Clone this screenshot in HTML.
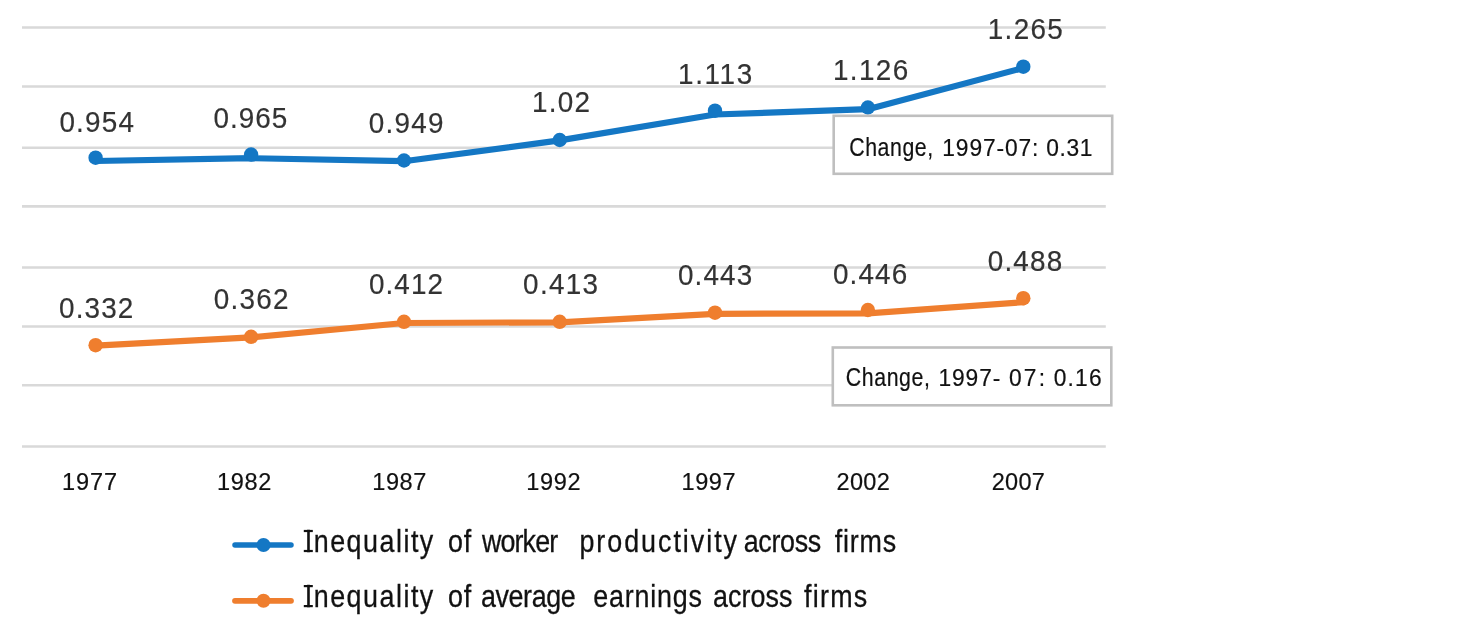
<!DOCTYPE html><html><head><meta charset="utf-8"><style>html,body{margin:0;padding:0;background:#fff;width:1480px;height:633px;overflow:hidden}svg{display:block;will-change:transform}text{font-family:"Liberation Sans", sans-serif}</style></head><body>
<svg width="1480" height="633" viewBox="0 0 1480 633">
<rect x="0" y="0" width="1480" height="633" fill="#fff"/>
<line x1="22" y1="27.55" x2="1105.8" y2="27.55" stroke="#d9d9d9" stroke-width="2.60"/>
<line x1="22" y1="86.45" x2="1105.8" y2="86.45" stroke="#d9d9d9" stroke-width="2.60"/>
<line x1="22" y1="147.80" x2="1105.8" y2="147.80" stroke="#d9d9d9" stroke-width="2.60"/>
<line x1="22" y1="206.40" x2="1105.8" y2="206.40" stroke="#d9d9d9" stroke-width="2.60"/>
<line x1="22" y1="267.55" x2="1105.8" y2="267.55" stroke="#d9d9d9" stroke-width="2.60"/>
<line x1="22" y1="326.45" x2="1105.8" y2="326.45" stroke="#d9d9d9" stroke-width="2.60"/>
<line x1="22" y1="385.30" x2="1105.8" y2="385.30" stroke="#d9d9d9" stroke-width="2.60"/>
<line x1="22" y1="446.45" x2="1105.8" y2="446.45" stroke="#d9d9d9" stroke-width="2.60"/>
<polyline points="95.6,161.0 251.1,158.2 404.0,161.2 559.7,140.4 715.0,114.5 867.9,109.2 1023.3,68.0" fill="none" stroke="#1477c4" stroke-width="6.20" stroke-linejoin="round" stroke-linecap="round"/>
<polyline points="95.6,345.7 251.1,337.3 404.0,323.0 559.7,322.3 715.0,313.8 867.9,313.4 1023.3,302.2" fill="none" stroke="#ef7e2e" stroke-width="6.20" stroke-linejoin="round" stroke-linecap="round"/>
<circle cx="95.6" cy="157.7" r="7.20" fill="#1477c4"/>
<circle cx="251.1" cy="154.5" r="7.20" fill="#1477c4"/>
<circle cx="404.0" cy="160.5" r="7.20" fill="#1477c4"/>
<circle cx="559.7" cy="140.0" r="7.20" fill="#1477c4"/>
<circle cx="715.0" cy="110.7" r="7.20" fill="#1477c4"/>
<circle cx="867.9" cy="107.5" r="7.20" fill="#1477c4"/>
<circle cx="1023.3" cy="66.7" r="7.20" fill="#1477c4"/>
<circle cx="95.6" cy="345.2" r="7.20" fill="#ef7e2e"/>
<circle cx="251.1" cy="336.8" r="7.20" fill="#ef7e2e"/>
<circle cx="404.0" cy="321.8" r="7.20" fill="#ef7e2e"/>
<circle cx="559.7" cy="321.8" r="7.20" fill="#ef7e2e"/>
<circle cx="715.0" cy="312.7" r="7.20" fill="#ef7e2e"/>
<circle cx="867.9" cy="310.0" r="7.20" fill="#ef7e2e"/>
<circle cx="1023.3" cy="298.2" r="7.20" fill="#ef7e2e"/>
<rect x="833.7" y="115.8" width="278.5" height="58" fill="#fff" stroke="#bfbfbf" stroke-width="2.6"/>
<rect x="832.8" y="347.5" width="278.5" height="57.8" fill="#fff" stroke="#bfbfbf" stroke-width="2.6"/>
<line x1="235" y1="545" x2="291" y2="545" stroke="#1477c4" stroke-width="5.5" stroke-linecap="round"/>
<circle cx="263.5" cy="545" r="7" fill="#1477c4"/>
<line x1="235" y1="600.8" x2="291" y2="600.8" stroke="#ef7e2e" stroke-width="5.8" stroke-linecap="round"/>
<circle cx="263.5" cy="600.8" r="7" fill="#ef7e2e"/>
<rect x="303.8" y="529.90" width="9" height="2.2" fill="#111111"/>
<rect x="303.8" y="549.90" width="9" height="2.2" fill="#111111"/>
<rect x="303.8" y="585.00" width="9" height="2.2" fill="#111111"/>
<rect x="303.8" y="605.00" width="9" height="2.2" fill="#111111"/>
<text transform="translate(59.40 131.70) scale(0.920 1)" font-size="30.3" fill="#333333" stroke="#333333" stroke-width="0.20" textLength="81.09" lengthAdjust="spacing">0.954</text>
<text transform="translate(213.60 128.10) scale(0.920 1)" font-size="30.3" fill="#333333" stroke="#333333" stroke-width="0.20" textLength="80.20" lengthAdjust="spacing">0.965</text>
<text transform="translate(368.80 133.10) scale(0.920 1)" font-size="30.3" fill="#333333" stroke="#333333" stroke-width="0.20" textLength="81.21" lengthAdjust="spacing">0.949</text>
<text transform="translate(532.00 111.50) scale(0.920 1)" font-size="30.3" fill="#333333" stroke="#333333" stroke-width="0.20" textLength="63.13" lengthAdjust="spacing">1.02</text>
<text transform="translate(678.10 83.80) scale(0.920 1)" font-size="30.3" fill="#333333" stroke="#333333" stroke-width="0.20" textLength="80.62" lengthAdjust="spacing">1.113</text>
<text transform="translate(832.90 79.80) scale(0.920 1)" font-size="30.3" fill="#333333" stroke="#333333" stroke-width="0.20" textLength="81.83" lengthAdjust="spacing">1.126</text>
<text transform="translate(987.80 38.50) scale(0.920 1)" font-size="30.3" fill="#333333" stroke="#333333" stroke-width="0.20" textLength="81.49" lengthAdjust="spacing">1.265</text>
<text transform="translate(59.10 318.20) scale(0.920 1)" font-size="30.3" fill="#333333" stroke="#333333" stroke-width="0.20" textLength="80.70" lengthAdjust="spacing">0.332</text>
<text transform="translate(213.70 308.60) scale(0.920 1)" font-size="30.3" fill="#333333" stroke="#333333" stroke-width="0.20" textLength="81.33" lengthAdjust="spacing">0.362</text>
<text transform="translate(368.90 293.80) scale(0.920 1)" font-size="30.3" fill="#333333" stroke="#333333" stroke-width="0.20" textLength="80.63" lengthAdjust="spacing">0.412</text>
<text transform="translate(523.10 293.60) scale(0.920 1)" font-size="30.3" fill="#333333" stroke="#333333" stroke-width="0.20" textLength="81.56" lengthAdjust="spacing">0.413</text>
<text transform="translate(678.00 284.50) scale(0.920 1)" font-size="30.3" fill="#333333" stroke="#333333" stroke-width="0.20" textLength="80.67" lengthAdjust="spacing">0.443</text>
<text transform="translate(833.00 283.80) scale(0.920 1)" font-size="30.3" fill="#333333" stroke="#333333" stroke-width="0.20" textLength="80.67" lengthAdjust="spacing">0.446</text>
<text transform="translate(987.80 271.40) scale(0.920 1)" font-size="30.3" fill="#333333" stroke="#333333" stroke-width="0.20" textLength="80.89" lengthAdjust="spacing">0.488</text>
<text transform="translate(61.95 489.90) scale(0.950 1)" font-size="24.8" fill="#111111" stroke="#111111" stroke-width="0.20" textLength="58.17" lengthAdjust="spacing">1977</text>
<text transform="translate(217.08 489.90) scale(0.950 1)" font-size="24.8" fill="#111111" stroke="#111111" stroke-width="0.20" textLength="57.03" lengthAdjust="spacing">1982</text>
<text transform="translate(372.20 489.90) scale(0.950 1)" font-size="24.8" fill="#111111" stroke="#111111" stroke-width="0.20" textLength="57.03" lengthAdjust="spacing">1987</text>
<text transform="translate(526.32 489.90) scale(0.950 1)" font-size="24.8" fill="#111111" stroke="#111111" stroke-width="0.20" textLength="57.03" lengthAdjust="spacing">1992</text>
<text transform="translate(681.45 489.90) scale(0.950 1)" font-size="24.8" fill="#111111" stroke="#111111" stroke-width="0.20" textLength="57.03" lengthAdjust="spacing">1997</text>
<text transform="translate(836.57 489.90) scale(0.950 1)" font-size="24.8" fill="#111111" stroke="#111111" stroke-width="0.20" textLength="56.00" lengthAdjust="spacing">2002</text>
<text transform="translate(991.70 489.90) scale(0.950 1)" font-size="24.8" fill="#111111" stroke="#111111" stroke-width="0.20" textLength="56.00" lengthAdjust="spacing">2007</text>
<text transform="translate(849.30 156.30) scale(0.820 1)" font-size="26" fill="#111111" stroke="#111111" stroke-width="0.20" textLength="102.21" lengthAdjust="spacing">Change,</text>
<text transform="translate(942.30 156.30) scale(0.950 1)" font-size="24" fill="#111111" stroke="#111111" stroke-width="0.20" textLength="101.12" lengthAdjust="spacing">1997-07:</text>
<text transform="translate(1046.20 156.30) scale(0.950 1)" font-size="24" fill="#111111" stroke="#111111" stroke-width="0.20" textLength="48.71" lengthAdjust="spacing">0.31</text>
<text transform="translate(845.80 386.40) scale(0.820 1)" font-size="26" fill="#111111" stroke="#111111" stroke-width="0.20" textLength="102.50" lengthAdjust="spacing">Change,</text>
<text transform="translate(938.50 386.40) scale(0.950 1)" font-size="24" fill="#111111" stroke="#111111" stroke-width="0.20" textLength="65.03" lengthAdjust="spacing">1997-</text>
<text transform="translate(1008.90 386.40) scale(0.950 1)" font-size="24" fill="#111111" stroke="#111111" stroke-width="0.20" textLength="38.06" lengthAdjust="spacing">07:</text>
<text transform="translate(1053.80 386.40) scale(0.950 1)" font-size="24" fill="#111111" stroke="#111111" stroke-width="0.20" textLength="50.35" lengthAdjust="spacing">0.16</text>
<text transform="translate(304.70 552.10) scale(0.840 1)" font-size="32" fill="#111111" stroke="#111111" stroke-width="0.30" textLength="153.12" lengthAdjust="spacing">Inequality</text>
<text transform="translate(447.90 552.10) scale(0.840 1)" font-size="32" fill="#111111" stroke="#111111" stroke-width="0.30" textLength="27.74" lengthAdjust="spacing">of</text>
<text transform="translate(481.90 552.10) scale(0.840 1)" font-size="32" fill="#111111" stroke="#111111" stroke-width="0.30" textLength="90.89" lengthAdjust="spacing">worker</text>
<text transform="translate(579.40 552.10) scale(0.840 1)" font-size="32" fill="#111111" stroke="#111111" stroke-width="0.30" textLength="187.68" lengthAdjust="spacing">productivity</text>
<text transform="translate(743.70 552.10) scale(0.840 1)" font-size="32" fill="#111111" stroke="#111111" stroke-width="0.30" textLength="92.37" lengthAdjust="spacing">across</text>
<text transform="translate(834.80 552.10) scale(0.840 1)" font-size="32" fill="#111111" stroke="#111111" stroke-width="0.30" textLength="73.08" lengthAdjust="spacing">firms</text>
<text transform="translate(304.70 607.20) scale(0.840 1)" font-size="32" fill="#111111" stroke="#111111" stroke-width="0.30" textLength="153.12" lengthAdjust="spacing">Inequality</text>
<text transform="translate(447.90 607.20) scale(0.840 1)" font-size="32" fill="#111111" stroke="#111111" stroke-width="0.30" textLength="27.74" lengthAdjust="spacing">of</text>
<text transform="translate(480.90 607.20) scale(0.840 1)" font-size="32" fill="#111111" stroke="#111111" stroke-width="0.30" textLength="112.93" lengthAdjust="spacing">average</text>
<text transform="translate(593.20 607.20) scale(0.840 1)" font-size="32" fill="#111111" stroke="#111111" stroke-width="0.30" textLength="129.37" lengthAdjust="spacing">earnings</text>
<text transform="translate(713.00 607.20) scale(0.840 1)" font-size="32" fill="#111111" stroke="#111111" stroke-width="0.30" textLength="94.43" lengthAdjust="spacing">across</text>
<text transform="translate(804.10 607.20) scale(0.840 1)" font-size="32" fill="#111111" stroke="#111111" stroke-width="0.30" textLength="75.14" lengthAdjust="spacing">firms</text>
</svg></body></html>
